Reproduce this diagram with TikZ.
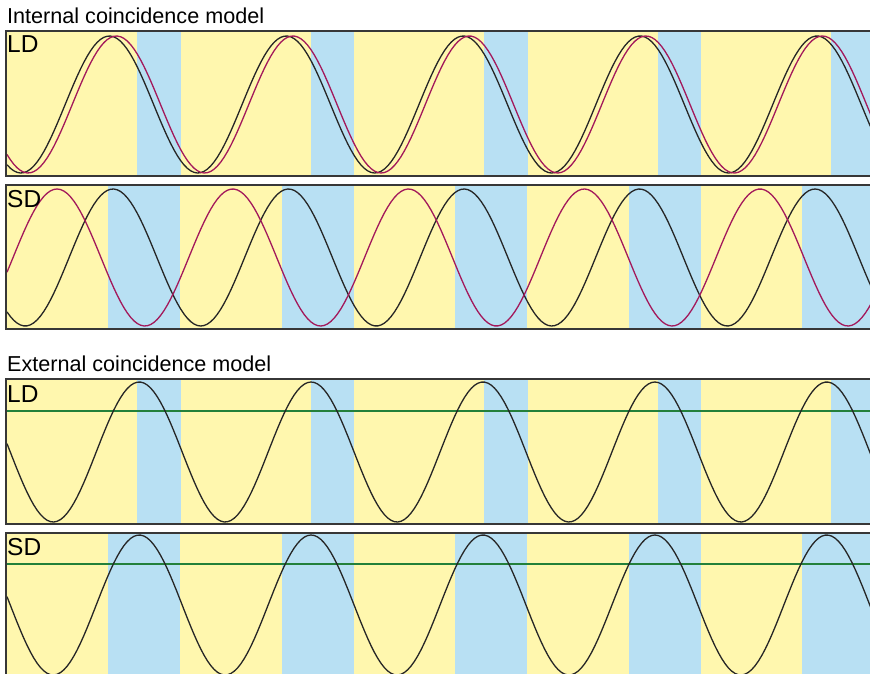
\documentclass[tikz,border=0pt]{standalone}
\usepackage{fontspec}
\setmainfont{Liberation Sans}
\usetikzlibrary{positioning}
\definecolor{dayyellow}{RGB}{255,247,174}
\definecolor{nightblue}{RGB}{184,224,243}
\definecolor{clockred}{RGB}{163,25,91}
\definecolor{limitgreen}{RGB}{35,128,58}
\definecolor{framegray}{RGB}{55,55,55}

\begin{document}
\begin{tikzpicture}[x=1pt, y=-1pt,
    panelbox/.style={draw=framegray, line width=2pt},
    lightfill/.style={fill=dayyellow},
    darkband/.style={fill=nightblue},
    rhythm/.style={line width=1.3pt, black!85},
    lightsense/.style={line width=1.3pt, clockred},
    threshold/.style={line width=1.3pt, limitgreen},
    heading/.style={anchor=base west, inner sep=0pt, font=\fontsize{21.6}{25}\selectfont},
    tag/.style={anchor=base west, inner sep=0pt, font=\fontsize{24.5}{28}\selectfont}]
    \clip (0,0) rectangle (870,674);
    % internal coincidence
    \node[heading] (titleint) at (7,24) {Internal coincidence model};
    % LD panel
    \fill[lightfill] (6,31) rectangle (880,176);
    \foreach \s in {0,...,4}
        \fill[darkband] ({137+173.5*\s},31) rectangle ++(43.5,145);
    \draw[rhythm] plot[domain=7:872, samples=260] (\x, {104.5-68.5*cos(((\x-109.4)/176.9)*360)});
    \draw[lightsense] plot[domain=7:872, samples=260] (\x, {104.5-68.5*cos(((\x-116.4)/176.5)*360)});
    \draw[panelbox] (6,31) rectangle (880,176);
    \node[tag] (ldint) at (7,53) {LD};
    % SD panel
    \fill[lightfill] (6,185) rectangle (880,329);
    \foreach \s in {0,...,4}
        \fill[darkband] ({108+173.5*\s},185) rectangle ++(72,144);
    \draw[rhythm] plot[domain=7:872, samples=260] (\x, {257.5-68.5*cos(((\x-113)/175.5)*360)});
    \draw[lightsense] plot[domain=7:872, samples=260] (\x, {257.5-68.5*cos(((\x-57)/175.75)*360)});
    \draw[panelbox] (6,185) rectangle (880,329);
    \node[tag] (sdint) at (7,207) {SD};
    % external coincidence
    \node[heading] (titleext) at (7,371) {External coincidence model};
    % LD panel
    \fill[lightfill] (6,379) rectangle (880,524);
    \foreach \s in {0,...,4}
        \fill[darkband] ({137+173.5*\s},379) rectangle ++(43.5,145);
    \draw[threshold] (6,411) -- (880,411);
    \draw[rhythm] plot[domain=7:872, samples=260] (\x, {452-70*cos(((\x-139.2)/171.9)*360)});
    \draw[panelbox] (6,379) rectangle (880,524);
    \node[tag] (ldext) at (7,402) {LD};
    % SD panel
    \fill[lightfill] (6,533) rectangle (880,678);
    \foreach \s in {0,...,4}
        \fill[darkband] ({108+173.5*\s},533) rectangle ++(72,145);
    \draw[threshold] (6,564) -- (880,564);
    \draw[rhythm] plot[domain=7:872, samples=260] (\x, {605-70*cos(((\x-139.2)/171.9)*360)});
    \draw[panelbox] (6,533) rectangle (880,678);
    \node[tag] (sdext) at (7,555) {SD};
\end{tikzpicture}
\end{document}
